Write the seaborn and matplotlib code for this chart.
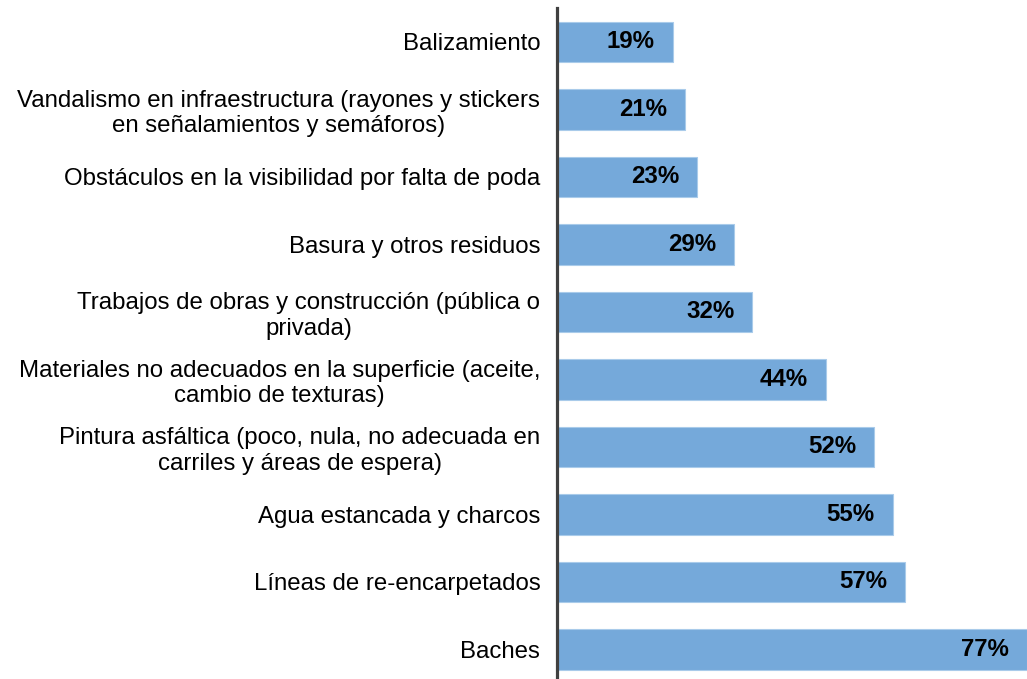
import matplotlib
matplotlib.use("Agg")
import matplotlib.pyplot as plt
import seaborn as sns
import pandas as pd

categorias = [
    "Balizamiento",
    "Vandalismo en infraestructura (rayones y stickers\nen señalamientos y semáforos)",
    "Obstáculos en la visibilidad por falta de poda",
    "Basura y otros residuos",
    "Trabajos de obras y construcción (pública o\nprivada)",
    "Materiales no adecuados en la superficie (aceite,\ncambio de texturas)",
    "Pintura asfáltica (poco, nula, no adecuada en\ncarriles y áreas de espera)",
    "Agua estancada y charcos",
    "Líneas de re-encarpetados",
    "Baches",
]
porcentajes = [19, 21, 23, 29, 32, 44, 52, 55, 57, 77]

df = pd.DataFrame({"categoria": categorias, "pct": porcentajes})

sns.set_style("white")
plt.rcParams["font.family"] = ["Liberation Sans", "DejaVu Sans"]

W, H = 1027, 679
fig = plt.figure(figsize=(W / 100, H / 100), dpi=100)
ax = fig.add_axes([557 / W, (H - 683) / H, (W - 557) / W, 675 / H])

sns.barplot(data=df, x="pct", y="categoria", orient="h", color="#75A9DA",
            saturation=1, width=0.6, ax=ax, edgecolor="#A9CBEA", linewidth=0.8)

ax.set_xlim(0, 77)
ax.set_ylim(9.5, -0.5)
ax.set_xlabel("")
ax.set_ylabel("")
ax.set_xticks([])
ax.tick_params(axis="y", length=0, pad=12, labelsize=17.3, labelcolor="black")
for lbl in ax.get_yticklabels():
    lbl.set_multialignment("center")
    lbl.set_linespacing(1.22)

for s in ["top", "right", "bottom"]:
    ax.spines[s].set_visible(False)
ax.spines["left"].set_color("#404040")
ax.spines["left"].set_linewidth(2.3)

for i, v in enumerate(porcentajes):
    ax.annotate(f"{v}%", xy=(v, i), xytext=(-13, 0), textcoords="offset points",
                ha="right", va="center", fontsize=17.3, fontweight="bold", color="black")

fig.savefig("out.png", dpi=100)
